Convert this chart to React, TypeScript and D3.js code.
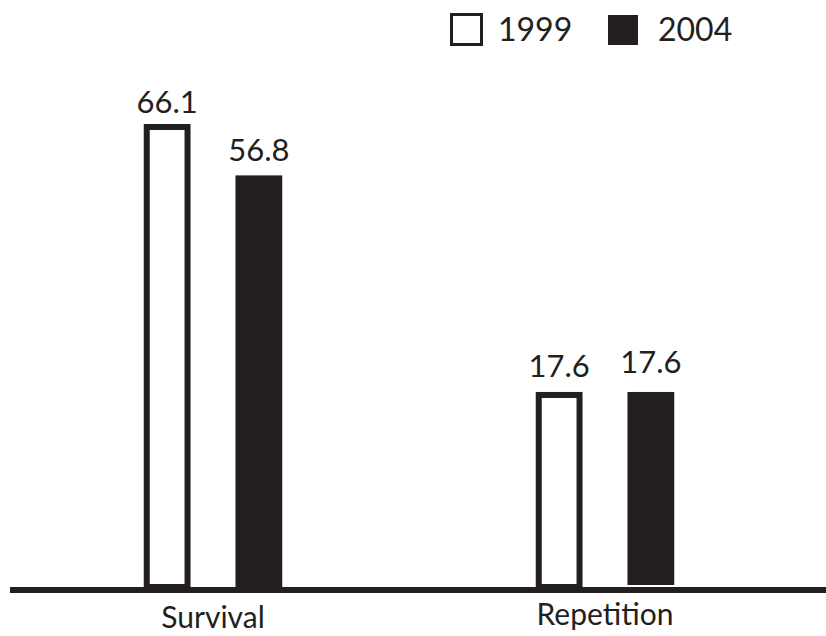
import React from "react";
import * as d3 from "d3";

const categories = ["Survival", "Repetition"];
const series = ["1999", "2004"];
const values1999 = [66.1, 17.6];
const values2004 = [56.8, 17.6];
const valueLabels1999 = ["66.1", "17.6"];
const valueLabels2004 = ["56.8", "17.6"];

const W = 826;
const H = 636;
const INK = "#231f20";
const FONT = "Lato, 'Noto Sans', sans-serif";

export default function App() {
  const baseY = 587;
  const x0 = d3.scalePoint<string>().domain(categories).range([213, 605]);
  const x1 = d3.scaleBand<string>().domain(series).range([-69.25, 69.25]).paddingInner(0.49);
  const y = d3.scaleLinear().domain([-17.7, 66.1]).range([baseY, 124]);
  const sw = 6;
  const catLabelY = [628, 625];
  const labelOffsets = [[11, 14], [15, 17]];

  const data = categories.map((c, i) => ({
    cat: c,
    bars: [
      { s: series[0], v: values1999[i], label: valueLabels1999[i] },
      { s: series[1], v: values2004[i], label: valueLabels2004[i] },
    ],
  }));

  return (
    <svg width={W} height={H} style={{ position: "absolute", left: 0, top: 0, background: "#fff" }}>
      {data.map((g, gi) => (
        <g key={g.cat} transform={`translate(${x0(g.cat)},0)`}>
          {g.bars.map((b, bi) => {
            const bx = x1(b.s)!;
            const bw = x1.bandwidth();
            const top = y(b.v);
            return (
              <g key={b.s}>
                {bi === 0 ? (
                  <rect
                    x={bx + sw / 2}
                    y={top + sw / 2}
                    width={bw - sw}
                    height={baseY - top - sw / 2}
                    fill="#fff"
                    stroke={INK}
                    strokeWidth={sw}
                  />
                ) : (
                  <rect x={bx} y={top} width={bw} height={baseY - top - (gi === 1 ? 2 : 0)} fill={INK} />
                )}
                <text
                  x={bx + bw / 2}
                  y={top - labelOffsets[gi][bi] - (gi === 1 && bi === 1 ? 2 : 0)}
                  textAnchor="middle"
                  fontFamily={FONT}
                  fontSize={31}
                  fill={INK}
                >
                  {b.label}
                </text>
              </g>
            );
          })}
          <text
            x={0}
            y={catLabelY[gi]}
            textAnchor="middle"
            fontFamily={FONT}
            fontSize={30}
            fill={INK}
          >
            {g.cat}
          </text>
        </g>
      ))}
      <rect x={10} y={baseY} width={W - 10} height={6} fill={INK} />
      <g>
        <rect x={451.5} y={14.5} width={30} height={30} fill="#fff" stroke={INK} strokeWidth={3} />
        <text x={498} y={41} fontFamily={FONT} fontSize={32} fill={INK}>
          {series[0]}
        </text>
        <rect x={608} y={15} width={30} height={30} fill={INK} />
        <text x={658} y={41} fontFamily={FONT} fontSize={32} fill={INK}>
          {series[1]}
        </text>
      </g>
    </svg>
  );
}
